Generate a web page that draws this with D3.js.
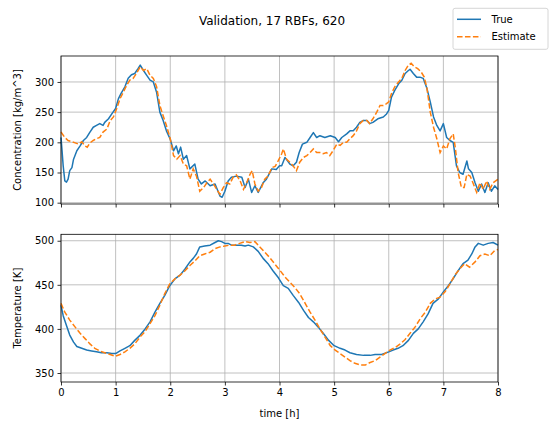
<!DOCTYPE html>
<html>
<head>
<meta charset="utf-8">
<script src="https://cdn.jsdelivr.net/npm/d3@7"></script>
<style>
  body { margin: 0; background: #fff; }
  svg text { font-family: "DejaVu Sans", sans-serif; fill: #000; }
</style>
</head>
<body>
<svg id="fig" width="549" height="425"></svg>
<script>
// Data -------------------------------
// time [h], value
const concTrue = [
  [0.00,208],[0.02,185],[0.04,161],[0.07,136],[0.10,134],[0.13,139],[0.16,153],[0.20,158],[0.23,172],[0.29,186],
  [0.35,194],[0.41,203],[0.47,208],[0.53,217],[0.59,225],[0.65,228],[0.71,231],[0.77,228],[0.80,233],[0.87,239],
  [0.93,247],[1.00,256],[1.05,272],[1.10,281],[1.17,292],[1.23,306],[1.29,312],[1.35,314],[1.41,322],[1.45,328],
  [1.51,319],[1.57,311],[1.63,303],[1.69,300],[1.75,283],[1.81,250],[1.87,236],[1.93,219],[2.00,205],[2.06,186],
  [2.11,194],[2.15,181],[2.19,192],[2.24,172],[2.30,178],[2.36,156],[2.45,164],[2.51,139],[2.57,131],[2.64,136],
  [2.73,128],[2.82,131],[2.91,111],[2.95,109],[3.00,119],[3.06,136],[3.12,142],[3.21,144],[3.31,142],[3.37,125],
  [3.43,139],[3.49,117],[3.55,128],[3.61,117],[3.70,133],[3.76,139],[3.86,156],[3.94,155],[4.00,161],[4.04,161],
  [4.10,175],[4.19,164],[4.25,161],[4.31,167],[4.36,183],[4.42,197],[4.50,200],[4.56,208],[4.62,216],[4.68,208],
  [4.74,211],[4.83,208],[4.93,211],[5.02,208],[5.08,201],[5.14,208],[5.23,214],[5.29,219],[5.35,219],[5.41,225],
  [5.47,233],[5.53,236],[5.60,236],[5.65,231],[5.71,233],[5.80,239],[5.90,242],[5.96,247],[6.00,253],[6.05,275],
  [6.11,286],[6.18,297],[6.24,303],[6.30,314],[6.36,319],[6.39,321],[6.45,314],[6.51,308],[6.57,308],[6.63,306],
  [6.70,289],[6.76,267],[6.82,242],[6.88,228],[6.94,219],[7.00,231],[7.06,208],[7.12,203],[7.18,200],[7.24,161],
  [7.30,150],[7.36,147],[7.43,169],[7.46,156],[7.52,150],[7.58,133],[7.64,119],[7.70,131],[7.76,117],[7.82,133],
  [7.88,119],[7.94,128],[8.00,122]
];
const concEst = [
  [0.00,217],[0.07,208],[0.13,203],[0.20,201],[0.26,199],[0.32,197],[0.38,201],[0.44,194],[0.48,192],[0.53,199],
  [0.59,203],[0.65,206],[0.71,208],[0.77,217],[0.84,222],[0.90,236],[0.96,242],[1.02,256],[1.08,272],[1.14,283],
  [1.20,294],[1.26,303],[1.32,306],[1.38,314],[1.45,325],[1.51,319],[1.57,322],[1.63,311],[1.69,306],[1.75,292],
  [1.81,261],[1.87,244],[1.93,228],[2.00,206],[2.06,178],[2.12,172],[2.18,178],[2.24,164],[2.30,161],[2.36,139],
  [2.42,156],[2.48,144],[2.54,119],[2.61,125],[2.67,133],[2.73,139],[2.79,131],[2.85,122],[2.91,114],[2.97,125],
  [3.03,133],[3.09,131],[3.15,142],[3.21,146],[3.28,136],[3.34,122],[3.40,133],[3.46,147],[3.50,153],[3.55,131],
  [3.61,119],[3.67,125],[3.73,139],[3.79,144],[3.86,158],[3.92,160],[3.98,170],[4.04,181],[4.07,189],[4.13,172],
  [4.19,167],[4.25,161],[4.31,153],[4.37,167],[4.44,175],[4.50,178],[4.56,183],[4.62,189],[4.68,183],[4.74,183],
  [4.80,181],[4.86,183],[4.92,178],[4.98,186],[5.05,197],[5.11,195],[5.17,200],[5.23,200],[5.29,206],[5.35,211],
  [5.41,219],[5.47,231],[5.53,236],[5.60,236],[5.65,231],[5.71,239],[5.78,250],[5.84,261],[5.90,261],[5.96,264],
  [6.00,267],[6.05,281],[6.11,292],[6.18,300],[6.24,306],[6.30,319],[6.36,328],[6.41,331],[6.47,325],[6.53,322],
  [6.59,317],[6.65,308],[6.70,289],[6.76,250],[6.82,225],[6.88,206],[6.94,183],[7.00,194],[7.06,189],[7.12,206],
  [7.18,214],[7.22,190],[7.27,150],[7.33,125],[7.38,125],[7.43,147],[7.49,144],[7.55,131],[7.61,117],[7.67,133],
  [7.73,122],[7.79,136],[7.85,122],[7.91,133],[8.00,139]
];
const tempTrue = [
  [0.00,427],[0.04,415],[0.10,404],[0.16,393],[0.23,385],[0.29,380],[0.38,378],[0.47,376],[0.56,375],[0.65,374],
  [0.74,373],[0.84,373],[0.93,372],[1.00,372],[1.08,375],[1.17,378],[1.26,381],[1.35,387],[1.45,393],[1.54,400],
  [1.63,408],[1.72,419],[1.81,429],[1.90,438],[1.99,449],[2.09,457],[2.18,461],[2.27,468],[2.36,476],[2.42,480],
  [2.48,485],[2.54,493],[2.63,494],[2.73,495],[2.82,498],[2.88,500],[2.94,499],[3.00,497],[3.06,497],[3.12,495],
  [3.21,495],[3.30,495],[3.37,494],[3.43,495],[3.52,493],[3.61,488],[3.70,480],[3.79,474],[3.88,466],[3.98,458],
  [4.07,449],[4.16,446],[4.25,438],[4.35,430],[4.44,421],[4.53,413],[4.62,408],[4.71,402],[4.80,395],[4.90,387],
  [5.00,381],[5.11,378],[5.20,376],[5.29,373],[5.41,371],[5.54,370],[5.66,370],[5.75,371],[5.87,371],[6.00,374],
  [6.08,376],[6.17,378],[6.26,381],[6.36,387],[6.45,395],[6.54,400],[6.63,408],[6.72,417],[6.81,429],[6.91,434],
  [7.00,442],[7.09,449],[7.18,457],[7.27,466],[7.36,474],[7.45,478],[7.52,485],[7.58,493],[7.64,497],[7.73,495],
  [7.82,497],[7.91,498],[8.00,495]
];
const tempEst = [
  [0.00,429],[0.07,419],[0.16,410],[0.26,402],[0.35,395],[0.44,389],[0.53,383],[0.62,378],[0.71,375],[0.80,373],
  [0.90,371],[0.99,369],[1.08,371],[1.17,374],[1.26,378],[1.35,383],[1.45,391],[1.54,397],[1.63,406],[1.72,415],
  [1.81,427],[1.90,440],[1.99,451],[2.09,457],[2.18,461],[2.27,466],[2.36,472],[2.45,477],[2.54,483],[2.63,485],
  [2.73,487],[2.82,491],[2.91,493],[3.00,494],[3.09,495],[3.18,495],[3.27,497],[3.37,499],[3.46,498],[3.55,499],
  [3.64,493],[3.73,487],[3.82,481],[3.91,474],[4.00,467],[4.10,459],[4.19,453],[4.28,447],[4.37,440],[4.47,429],
  [4.56,419],[4.65,410],[4.74,400],[4.83,391],[4.93,381],[5.02,376],[5.11,372],[5.20,368],[5.29,364],[5.38,361],
  [5.48,359],[5.57,359],[5.66,362],[5.75,364],[5.84,368],[5.93,372],[6.02,376],[6.12,379],[6.21,383],[6.30,388],
  [6.39,395],[6.48,402],[6.58,412],[6.67,419],[6.76,429],[6.85,434],[6.94,436],[7.03,442],[7.12,451],[7.21,461],
  [7.30,468],[7.39,474],[7.48,470],[7.58,476],[7.67,483],[7.76,485],[7.85,483],[7.94,489],[8.00,490]
];
const xTicks = [0, 1, 2, 3, 4, 5, 6, 7, 8];
const concTicks = [100, 150, 200, 250, 300];
const tempTicks = [350, 400, 450, 500];
const seriesNames = ["True", "Estimate"];

// Layout ---------
const svg = d3.select("#fig");
const left = 61, right = 498;
const colors = { True: "#1f77b4", Estimate: "#ff7f0e" };
const dash = "5.55,2.4";

const x = d3.scaleLinear().domain([0, 8]).range([left, right]);

//Draw one panel
function panel(top, bottom, domain, ticks, label, showX, trueData, estData) {
  const y = d3.scaleLinear().domain(domain).range([bottom, top]);
  const g = svg.append("g");

  //grid
  g.append("g").selectAll("line").data(xTicks).join("line")
    .attr("x1", d => x(d)).attr("x2", d => x(d))
    .attr("y1", top).attr("y2", bottom)
    .attr("stroke", "#b0b0b0").attr("stroke-width", 0.8);
  g.append("g").selectAll("line").data(ticks).join("line")
    .attr("x1", left).attr("x2", right)
    .attr("y1", d => y(d)).attr("y2", d => y(d))
    .attr("stroke", "#b0b0b0").attr("stroke-width", 0.8);

  //lines
  const line = d3.line().x(d => x(d[0])).y(d => y(d[1]));
  g.append("path").datum(trueData).attr("d", line)
    .attr("fill", "none").attr("stroke", colors.True).attr("stroke-width", 1.5)
    .attr("stroke-linejoin", "round");
  g.append("path").datum(estData).attr("d", line)
    .attr("fill", "none").attr("stroke", colors.Estimate).attr("stroke-width", 1.5)
    .attr("stroke-dasharray", dash);

  //axes
  const xAxis = d3.axisBottom(x).tickValues(xTicks).tickSizeInner(3.5).tickSizeOuter(0).tickPadding(3.5)
    .tickFormat(showX ? d3.format("d") : "");
  const gx = g.append("g").attr("transform", `translate(0,${bottom})`).call(xAxis);
  const yAxis = d3.axisLeft(y).tickValues(ticks).tickSizeInner(3.5).tickSizeOuter(0).tickPadding(3.5);
  const gy = g.append("g").attr("transform", `translate(${left},0)`).call(yAxis);
  [gx, gy].forEach(a => {
    a.select(".domain").remove();
    a.selectAll(".tick line").attr("stroke", "#000").attr("stroke-width", 0.8);
    a.selectAll(".tick text").attr("font-size", 10).attr("font-family", "DejaVu Sans");
  });

  //frame
  g.append("rect").attr("x", left).attr("y", top)
    .attr("width", right - left).attr("height", bottom - top)
    .attr("fill", "none").attr("stroke", "#000").attr("stroke-width", 0.8);

  g.append("text")
    .attr("transform", `translate(17,${(top + bottom) / 2}) rotate(-90)`)
    .attr("text-anchor", "middle").attr("dy", "0.35em")
    .attr("font-size", 10).text(label);
}

panel(56, 204, [97.8, 343], concTicks, "Concentration [kg/m^3]", false, concTrue, concEst);
panel(234.3, 382, [339.8, 507.3], tempTicks, "Temperature [K]", true, tempTrue, tempEst);

svg.append("text").attr("x", (left + right) / 2).attr("y", 417)
  .attr("text-anchor", "middle").attr("font-size", 10).text("time [h]");

svg.append("text").attr("x", 272).attr("y", 25)
  .attr("text-anchor", "middle").attr("font-size", 12).text("Validation, 17 RBFs, 620");

//Legend
const lg = svg.append("g");
lg.append("rect").attr("x", 453).attr("y", 8.3).attr("width", 95).attr("height", 41)
  .attr("rx", 2).attr("fill", "#fff").attr("fill-opacity", 0.8)
  .attr("stroke", "#cccccc").attr("stroke-width", 0.8);
seriesNames.forEach((name, i) => {
  const yy = 19.3 + i * 17.4;
  lg.append("line").attr("x1", 457).attr("x2", 481).attr("y1", yy).attr("y2", yy)
    .attr("stroke", colors[name]).attr("stroke-width", 1.5)
    .attr("stroke-dasharray", name === "Estimate" ? dash : null);
  lg.append("text").attr("x", 491.5).attr("y", yy).attr("dy", "0.35em")
    .attr("font-size", 10).text(name);
});
</script>
</body>
</html>
